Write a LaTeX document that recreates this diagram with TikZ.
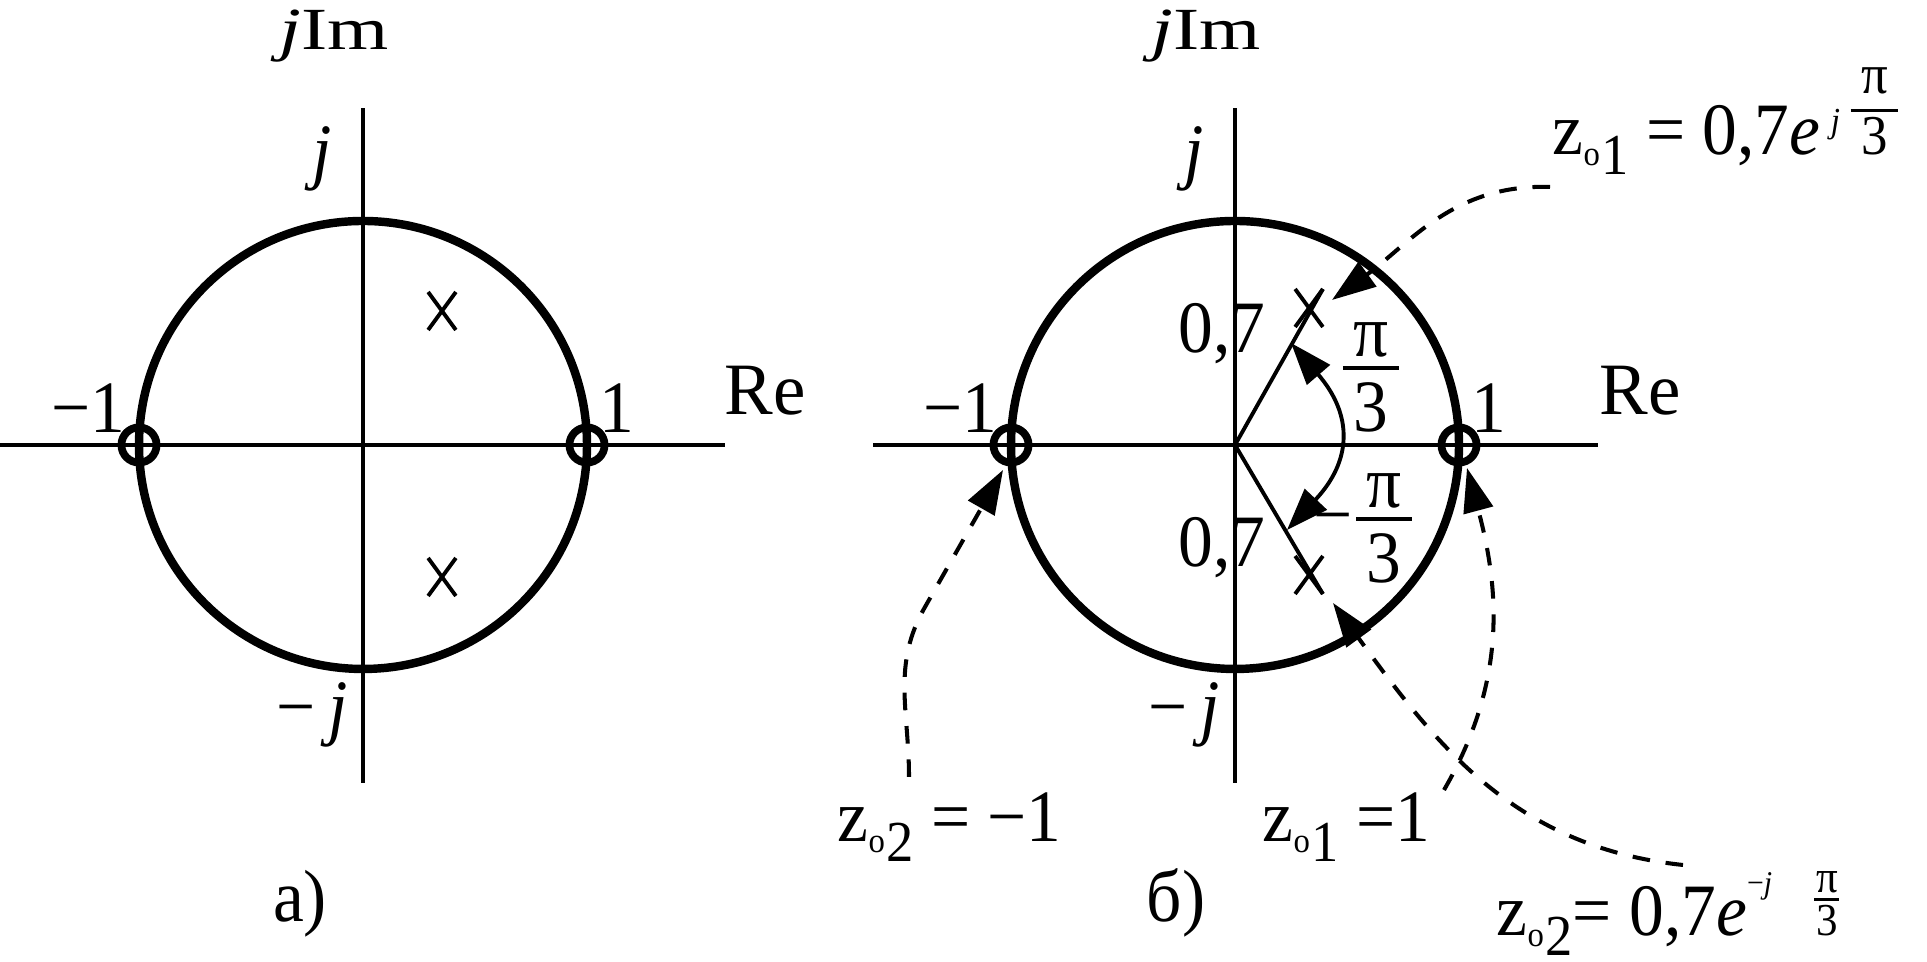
\documentclass[tikz,border=0pt]{standalone}
\usepackage{fontspec}
\setmainfont{Liberation Serif}[FakeStretch=0.94]
\usepackage{graphicx}
\usetikzlibrary{arrows.meta,shapes.misc}
% fraction: #1 kern above rule, #2 kern below rule, #3 numerator, #4 denominator, #5 side padding
\newcommand\myfr[5]{\vbox{\offinterlineskip\halign{\hfil\kern#5##\kern#5\hfil\cr #3\cr\noalign{\kern#1\hrule height 1.1pt\kern#2}#4\cr}}}
\newcommand\zsub[1]{\raisebox{-5.5pt}{\fontsize{16.5}{16.5}\selectfont\raisebox{2.5pt}{\scalebox{0.6}{o}}\kern0.5pt#1}}
\begin{document}
\begin{tikzpicture}[x=0.01cm,y=0.01cm,
  axis/.style={line width=1.15pt},
  unitc/.style={line width=2.4pt},
  zero/.style={circle,draw,line width=2.2pt,minimum size=10pt,inner sep=0pt},
  pole/.style={cross out,draw,line width=1.1pt,minimum width=6.8pt,minimum height=9.7pt,inner sep=0pt},
  lbl/.style={inner sep=0pt,font=\fontsize{21}{25}\selectfont},
  ray/.style={line width=1.1pt},
  conn/.style={line width=1.15pt,dash pattern=on 5pt off 4.5pt,-{Triangle[length=12.5pt,width=8.5pt]}},
  dbl/.style={line width=1.1pt,{Triangle[length=12pt,width=8.5pt]}-{Triangle[length=12pt,width=8.5pt]}}
]
\fill[white] (0,0) rectangle (1927,962);
\path[use as bounding box] (0,0) rectangle (1927,962);

% ---------- left diagram a)
\coordinate (OA) at (363,517);
\draw[axis] (0,517) -- (725,517);
\draw[axis] (363,179) -- (363,854);
\draw[unitc] (OA) circle[radius=224];
\node[zero] (za1) at (587,517) {};
\node[zero] (za2) at (139,517) {};
\node[pole] (pa1) at (442,651) {};
\node[pole] (pa2) at (442,385) {};
\node[lbl,anchor=base] (jimA) at (334,912) {\fontsize{17}{17}\selectfont\scalebox{1.4}[1]{\textit{j}Im}};
\node[lbl,anchor=base] (jA) at (322,786) {\textit{j}};
\node[lbl,anchor=base] (mjA) at (312,230) {−\,\textit{j}};
\node[lbl,anchor=base] (m1A) at (88,529) {−1};
\node[lbl,anchor=base] (p1A) at (617,529) {1};
\node[lbl,anchor=base] (reA) at (765,547) {\scalebox{1.05}[1]{Re}};
\node[lbl,anchor=base] (capA) at (300,40) {a)};

% ---------- right diagram b)
\coordinate (OB) at (1235,517);
\draw[axis] (873,517) -- (1598,517);
\draw[axis] (1235,179) -- (1235,854);
\draw[unitc] (OB) circle[radius=224];
\node[zero] (zb1) at (1459,517) {};
\node[zero] (zb2) at (1011,517) {};
\node[pole] (pb1) at (1309,654) {};
\node[pole] (pb2) at (1309,387) {};
\draw[ray] (OB) -- (pb1.north east);
\draw[ray] (OB) -- (pb2.south east);
\coordinate (arcA) at (1291,619);
\coordinate (arcB) at (1287,432);
\draw[dbl] (arcA) to[bend left=42,looseness=1.3] (arcB);

\node[lbl,anchor=base] (jimB) at (1206,912) {\fontsize{17}{17}\selectfont\scalebox{1.4}[1]{\textit{j}Im}};
\node[lbl,anchor=base] (jB) at (1194,786) {\textit{j}};
\node[lbl,anchor=base] (mjB) at (1184,230) {−\,\textit{j}};
\node[lbl,anchor=base] (m1B) at (960,529) {−1};
\node[lbl,anchor=base] (p1B) at (1489,529) {1};
\node[lbl,anchor=base] (reB) at (1640,547) {\scalebox{1.05}[1]{Re}};
\node[lbl,anchor=base] (capB) at (1176,40) {б)};
\node[lbl,anchor=base] (r1B) at (1222,609) {0,7};
\node[lbl,anchor=base] (r2B) at (1222,395) {0,7};
\node[lbl,anchor=base] (angU) at (1371,530) {\myfr{2.5pt}{3.7pt}{π}{3}{3pt}};
\node[lbl,anchor=base] (angL) at (1363,379) {\raisebox{12.3pt}{−}\kern1pt\myfr{2.5pt}{3.7pt}{π}{3}{3pt}};

% ---------- labels with dashed connectors
\node[lbl,anchor=base west] (zu) at (1552,807)
  {z\zsub{1} = 0,7\textit{e}\kern3pt\raisebox{6.3pt}{\fontsize{10}{10}\selectfont\textit{j}}\kern3pt{\fontsize{16}{16}\selectfont\myfr{4pt}{1.5pt}{π}{3}{3pt}}};
\node[lbl,anchor=base west] (zd) at (1496,26)
  {z\zsub{2}= 0,7\textit{e}\raisebox{12pt}{\fontsize{9}{9}\selectfont −\textit{j}}\hspace{12pt}{\fontsize{13}{13}\selectfont\myfr{1.2pt}{1.2pt}{π}{3}{0.5pt}}};
\node[lbl,anchor=base west] (zp) at (1262,120) {z\zsub{1} =1};
\node[lbl,anchor=base west] (zm) at (837,120) {z\zsub{2} = −1};

\coordinate (c1s) at (1550,775);
\coordinate (c1e) at (1332,662);
\draw[conn] (c1s) to[out=178,in=36] (c1e);

\coordinate (c2s) at (1683,97);
\coordinate (c2e) at (1333,359);
\draw[conn] (c2s) to[out=174,in=-54] (c2e);

\coordinate (c3s) at (1444,172);
\coordinate (c3e) at (1467,494);
\draw[conn] (c3s) to[out=60,in=-75] (c3e);

\coordinate (c4s) at (909,185);
\coordinate (c4k) at (925,355);
\coordinate (c4e) at (1003,492);
\draw[conn] (c4s) to[out=90,in=240] (c4k) -- (c4e);
\end{tikzpicture}
\end{document}
